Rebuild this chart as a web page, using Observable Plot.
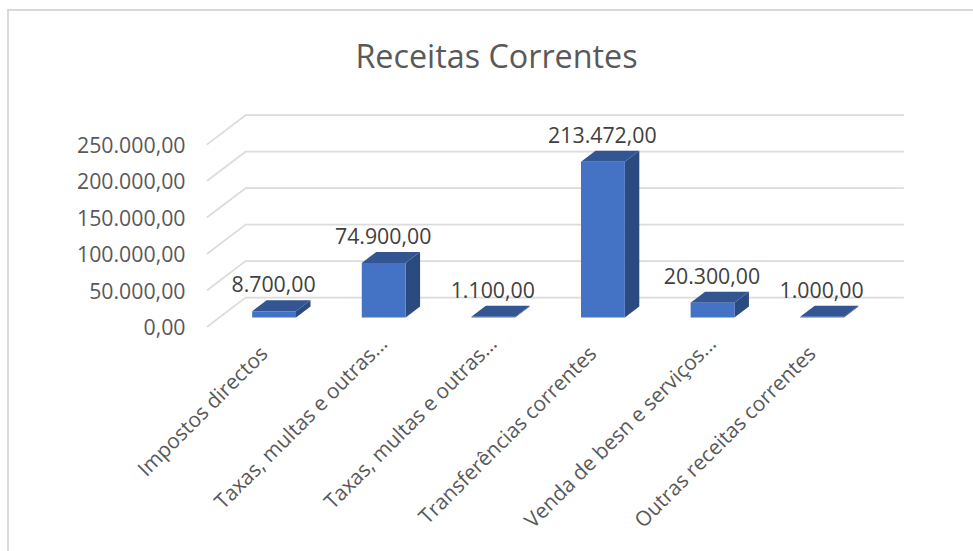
<!DOCTYPE html>
<html><head><meta charset="utf-8">
<script src="https://cdn.jsdelivr.net/npm/d3@7"></script>
<script src="https://cdn.jsdelivr.net/npm/@observablehq/plot@0.6"></script>
<style>
html,body{margin:0;padding:0;background:#fff;overflow:hidden}
#box{position:absolute;left:7px;top:9px;width:966px;height:542px;border-left:2px solid #d9d9d9;border-top:2px solid #d9d9d9;box-sizing:border-box}
#title{position:absolute;left:0;top:35px;width:993px;text-align:center;font:32.3px "Open Sans",sans-serif;color:#595959;line-height:40px}
#chart{position:absolute;left:0;top:90px}
svg{display:block;overflow:visible}
</style></head><body>
<div id="box"></div>
<div id="title">Receitas Correntes</div>
<div id="chart"></div>
<script>
const categories = ["Impostos directos","Taxas, multas e outras...","Taxas, multas e outras...","Transferências correntes","Venda de besn e serviços...","Outras receitas correntes"];
const values = [8700,74900,1100,213472,20300,1000];
const valueLabels = ["8.700,00","74.900,00","1.100,00","213.472,00","20.300,00","1.000,00"];
const yTicks = [0,50000,100000,150000,200000,250000];
const yLabels = ["0,00","50.000,00","100.000,00","150.000,00","200.000,00","250.000,00"];

// oblique projection of the 3D chart: a depth of 1 shifts by wx categories and wy value units
const wx = 38/109.5, wy = 39600;
const depth0 = 0.31, depth1 = 0.69, half = 0.2;
const P = (c, v, d) => ({x: c + d*wx, y: v + d*wy});
const face = (id, pts) => pts.map(p => ({id, ...p}));

const fronts=[], tops=[], sides=[], labels=[];
values.forEach((v,i)=>{
  const l=i+0.5-half, r=i+0.5+half;
  fronts.push(...face(i,[P(l,0,depth0),P(r,0,depth0),P(r,v,depth0),P(l,v,depth0),P(l,0,depth0)]));
  tops.push(...face(i,[P(l,v,depth0),P(r,v,depth0),P(r,v,depth1),P(l,v,depth1),P(l,v,depth0)]));
  sides.push(...face(i,[P(r,0,depth0),P(r,v,depth0),P(r,v,depth1),P(r,0,depth1),P(r,0,depth0)]));
  labels.push({...P(i+0.5,v,depth1), text:valueLabels[i]});
});
const grid = yTicks.flatMap((t,i)=>face(i,[P(0,t,0),P(0,t,1),P(categories.length,t,1)]));

const tickPos = categories.map((c,i)=>i+0.5);
const isCut = d => categories[d-0.5].endsWith("...");
const xAxis = (ticks, dx, dy) => Plot.axisX({ticks,tickSize:0,tickFormat:d=>categories[d-0.5],tickRotate:-45,textAnchor:"end",fontSize:20.8,color:"#595959",label:null,dx,dy,lineWidth:100});

const plot = Plot.plot({
  width:973, height:461,
  marginLeft:207, marginRight:70.3, marginTop:24.7, marginBottom:225,
  x:{type:"linear",domain:[0,categories.length+wx]},
  y:{type:"linear",domain:[0,250000+wy]},
  style:{background:"transparent",fontFamily:"'Open Sans',sans-serif"},
  marks:[
    Plot.line(grid,{x:"x",y:"y",z:"id",stroke:"#dcdcdc",strokeWidth:1.8,curve:"linear"}),
    Plot.line(sides,{x:"x",y:"y",z:"id",fill:"#2b4a80",stroke:"none",curve:"linear"}),
    Plot.line(tops,{x:"x",y:"y",z:"id",fill:"#335693",stroke:"none",curve:"linear"}),
    Plot.line(fronts,{x:"x",y:"y",z:"id",fill:"#4472c4",stroke:"none",curve:"linear"}),
    Plot.text(labels,{x:"x",y:"y",text:"text",dx:-15,dy:-15,fontSize:21.3,fill:"#404040",textAnchor:"middle"}),
    Plot.axisY({ticks:yTicks,tickSize:0,tickPadding:22,tickFormat:d=>yLabels[yTicks.indexOf(d)],fontSize:21.3,color:"#595959",label:null,dy:2}),
    xAxis(tickPos.filter(d=>!isCut(d)),2,12),
    xAxis(tickPos.filter(isCut),12,2)
  ]
});
document.getElementById("chart").append(plot);
</script>
</body></html>
